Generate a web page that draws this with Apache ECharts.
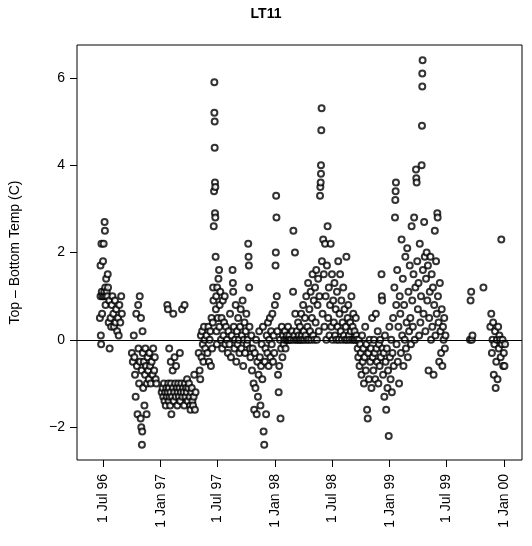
<!DOCTYPE html>
<html>
<head>
<meta charset="utf-8">
<script src="https://cdn.jsdelivr.net/npm/echarts@6/dist/echarts.min.js"></script>
<style>html,body{margin:0;padding:0;background:#fff}#chart{width:532px;height:546px}</style>
</head>
<body>
<div id="chart"></div>
<script>
// days since 1 Jul 1996, temperature difference (C)
var days = [
  -10,-8,-8,-7,-6,-5,-4,-3,-2,0,2,3,4,5,6,7,8,9,10,12,14,15,16,18,20,21,24,26,28,30,33,35,38,40,42,45,48,50,52,55,58,60,
  92,95,98,100,102,104,106,108,110,112,113,115,117,118,120,121,122,123,124,125,126,127,128,130,132,134,135,137,139,140,142,144,146,148,150,152,155,158,160,163,165,168,170,
  187,190,192,194,196,198,200,202,203,205,206,207,208,209,210,211,212,214,215,216,217,218,220,222,223,224,225,227,228,230,232,233,235,237,238,240,242,244,245,246,248,250,252,253,255,257,259,260,261,263,265,267,268,270,272,274,276,278,279,281,283,285,287,289,291,293,295,
  305,308,310,312,314,316,318,320,322,324,326,
  330,333,336,338,340,342,344,346,348,350,351,352,353,354,355,355,356,356,357,357,358,358,359,360,361,362,363,364,366,368,370,371,372,374,376,378,380,382,384,386,388,390,392,
  395,398,400,403,405,408,410,413,414,415,417,419,421,423,425,427,429,431,433,435,437,439,441,443,445,447,449,451,453,455,457,459,461,463,464,465,466,467,469,
  470,473,475,477,480,482,484,486,488,490,492,494,496,498,500,502,504,506,508,510,512,514,516,518,520,522,524,526,528,530,532,534,536,538,540,542,544,546,548,550,551,552,553,554,556,558,560,562,564,566,568,570,572,574,576,578,580,582,584,586,588,590,592,594,596,
  600,603,606,607,608,610,612,613,615,618,620,622,624,626,628,630,632,634,636,638,640,642,644,646,648,650,652,654,656,658,660,662,664,666,668,670,672,674,676,678,680,682,684,686,688,690,692,693,694,695,695,696,697,698,700,702,704,706,708,710,712,714,716,718,720,722,724,726,728,730,732,734,736,738,740,742,744,746,748,750,752,754,756,758,760,762,764,766,768,770,772,774,776,778,780,782,784,786,788,790,792,794,796,798,800,802,804,806,808,810,
  812,814,816,818,820,822,824,826,828,830,832,834,836,838,840,842,844,846,848,850,852,854,856,858,860,862,864,866,868,870,872,874,876,878,880,882,884,886,888,889,890,891,893,895,897,899,901,903,905,907,909,911,913,915,917,919,921,923,925,927,929,931,932,933,934,935,936,
  938,940,942,944,946,948,950,952,954,956,958,960,962,964,966,968,970,972,974,976,978,980,982,984,986,988,990,992,994,996,998,999,1000,1002,1004,1006,1008,1010,1012,1014,1016,1017,1018,1018,1019,1020,1022,1024,1026,1028,1030,1032,1034,1036,1038,1040,1042,1044,1046,1048,1050,1052,1054,1056,1058,1060,1062,1064,1066,1067,1068,1070,1072,1074,1076,1078,1080,1082,1084,1086,1088,1090,1092,
  1170,1172,1174,1176,1178,1213,1235,1238,1240,1242,1244,1246,1248,1250,1252,1254,1256,1258,1260,1262,1264,1266,1268,1270,1272,1274,1276,1278,1280,1282
];
var temps = [
  0.5,1.0,1.7,0.1,-0.1,2.2,1.1,0.6,1.0,1.8,2.2,1.0,1.1,2.7,2.5,1.2,0.8,1.0,1.4,1.1,1.0,1.5,1.2,0.4,0.9,-0.2,0.5,0.3,0.8,1.0,0.6,0.3,0.9,0.4,0.7,0.2,0.5,0.1,0.8,0.4,1.0,0.6,
  -0.3,-0.5,0.1,-0.4,-0.8,-1.3,0.6,-0.6,-1.7,0.8,-0.2,-1.0,1.0,-0.5,-1.8,0.5,-2.0,-0.7,-2.4,-2.1,0.2,-0.3,-1.1,-0.5,-1.5,-0.8,-0.2,-0.6,-1.7,-1.0,-0.4,-0.7,-0.9,-0.3,-0.6,-1.0,-0.5,-0.8,-0.2,-0.7,-0.4,-0.9,-1.0,
  -1.2,-1.1,-1.3,-1.0,-1.4,-1.2,-1.5,-1.1,-1.3,0.8,-1.2,0.7,-1.0,-1.4,-1.1,-0.2,-1.3,-1.5,-1.2,-0.5,-1.0,-1.7,-1.3,-0.7,-1.1,0.6,-1.4,-1.2,-0.4,-1.0,-1.3,-0.6,-1.1,-1.5,-1.2,-1.0,-1.3,-1.1,-0.3,-1.4,-1.2,-1.0,0.7,-1.3,-1.1,-1.2,-1.5,0.8,-1.0,-1.3,-1.1,-1.2,-0.9,-1.4,-1.1,-1.0,-1.3,-1.5,-1.6,-1.2,-1.1,-1.4,-1.5,-1.3,-0.8,-1.6,-1.2,
  -0.3,-0.7,-0.9,0.1,-0.4,0.2,-0.1,-0.5,0.3,0.0,-0.2,
  0.1,-0.3,0.3,-0.5,0.0,0.2,-0.6,0.5,-0.2,0.4,1.2,0.9,2.6,3.4,5.9,5.2,5.0,4.4,3.6,2.9,2.8,3.5,1.9,0.7,1.0,0.2,-0.1,1.2,0.5,1.4,1.6,0.3,0.8,1.1,0.0,0.5,-0.2,0.9,0.1,0.4,1.0,-0.1,0.3,
  0.0,-0.3,0.2,-0.1,0.6,-0.4,0.1,1.6,1.3,1.1,0.3,-0.2,0.0,0.8,-0.5,0.2,-0.1,0.5,0.0,-0.3,0.3,0.7,-0.2,0.1,0.9,-0.6,0.0,0.4,-0.3,0.2,0.6,-0.1,0.0,2.2,1.9,1.7,1.2,0.3,-0.2,
  -0.4,0.1,-0.7,-0.2,-1.0,-1.6,-0.3,-1.1,0.0,-1.7,-0.5,-1.3,-0.8,0.2,-0.4,-1.5,-0.6,-0.1,-0.9,0.3,-2.1,-2.4,-0.5,-0.2,-1.7,0.1,-0.3,0.4,-0.6,0.0,0.5,-0.4,0.2,-0.1,0.6,-0.5,0.1,-0.3,0.8,1.7,2.0,3.3,2.8,1.0,0.2,-0.8,-1.2,-0.6,0.0,-1.8,-0.2,0.3,-0.4,0.1,-0.1,0.0,0.2,-0.2,0.0,0.1,0.0,0.3,0.0,0.1,0.0,
  0.0,0.2,1.1,2.5,0.0,0.1,2.0,0.6,0.0,0.2,0.0,0.4,0.1,0.0,0.3,0.0,0.6,0.1,0.0,0.8,0.2,0.0,0.5,0.1,1.0,0.0,0.3,1.3,0.0,0.7,0.2,1.1,0.0,0.5,1.5,0.1,0.9,0.0,1.2,0.4,1.6,0.0,0.8,1.4,0.2,1.0,3.3,3.5,3.6,3.8,4.0,4.8,5.3,1.8,0.6,2.3,1.5,0.3,2.2,1.0,0.0,1.7,2.6,0.5,1.2,0.1,0.8,2.2,0.3,1.5,0.0,0.9,0.4,1.3,0.1,0.7,0.0,1.1,0.3,1.8,0.0,0.6,1.5,0.2,0.9,0.0,0.4,1.2,0.1,0.7,0.0,0.3,1.9,0.0,0.5,0.8,0.1,0.0,0.4,0.2,1.0,0.0,0.3,0.6,0.0,0.2,0.0,0.5,0.1,0.0,
  -0.2,-0.4,0.0,-0.6,-0.1,-0.3,-0.8,0.1,-0.5,-0.2,-1.0,-0.4,0.3,-0.7,-0.1,-1.6,-1.8,-0.3,-0.9,0.0,-0.5,-0.2,-1.1,0.5,-0.4,-0.7,0.0,-0.3,-0.9,0.6,-0.2,-0.5,0.2,-1.0,-0.1,-0.6,0.0,-0.4,1.5,1.0,0.9,-0.2,-0.8,-0.3,-1.3,0.1,-0.5,-1.6,-0.2,-1.1,-0.7,-2.2,0.3,-0.4,-0.9,0.0,-1.2,-0.3,0.5,-0.6,1.2,2.8,3.2,3.4,3.6,0.8,-0.1,
  1.6,-0.5,0.3,-1.0,1.0,0.6,-0.3,2.3,0.1,1.4,-0.6,0.8,0.0,1.9,-0.2,0.4,2.1,-0.4,1.1,0.2,1.7,0.5,-0.1,2.6,0.9,0.3,1.5,2.8,0.0,1.2,3.9,3.7,3.6,1.8,0.7,1.3,0.1,2.2,0.4,1.0,4.0,4.9,5.8,6.1,6.4,1.6,0.6,2.7,1.9,0.2,1.4,2.0,0.9,1.7,-0.7,0.5,1.1,1.9,0.0,1.5,0.3,1.2,-0.8,0.8,2.5,0.1,1.8,0.6,2.9,2.8,1.0,0.4,-0.5,1.3,0.2,-0.3,0.7,-0.6,0.3,0.0,0.5,-0.2,0.1,
  0.0,0.9,1.1,0.0,0.1,1.2,0.3,0.6,-0.3,0.0,0.4,-0.8,-0.1,0.2,-1.1,-0.5,0.0,-0.9,0.3,-0.2,0.1,0.0,-0.4,2.3,-0.1,0.0,-0.6,-0.3,-0.6,-0.1
];
var xTickDays = [0, 184, 365, 549, 730, 914, 1095, 1279];
var xTickLabels = ['1 Jul 96', '1 Jan 97', '1 Jul 97', '1 Jan 98', '1 Jul 98', '1 Jan 99', '1 Jul 99', '1 Jan 00'];
var yTicks = [-2, 0, 2, 4, 6];

var points = days.map(function (d, i) { return [d, temps[i]]; });
var font = 'Liberation Sans, Arial, sans-serif';

var chart = echarts.init(document.getElementById('chart'));
chart.setOption({
  animation: false,
  title: {
    text: 'LT11', left: 'center', top: 2,
    textStyle: { fontFamily: font, fontSize: 14, fontWeight: 'bold', color: '#000' }
  },
  grid: { left: 75, right: 10, top: 45, bottom: 86, show: true, borderColor: '#000', borderWidth: 1 },
  xAxis: {
    type: 'value', min: -83, max: 1336,
    axisLine: { show: false, onZero: false }, splitLine: { show: false },
    axisTick: { show: true, length: 7, lineStyle: { color: '#000' }, customValues: xTickDays },
    axisLabel: {
      customValues: xTickDays, rotate: 90, margin: 14, color: '#000', fontFamily: font, fontSize: 14,
      formatter: function (v) { var i = xTickDays.indexOf(v); return i >= 0 ? xTickLabels[i] : ''; }
    }
  },
  yAxis: {
    type: 'value', min: -2.75, max: 6.75,
    name: 'Top \u2013 Bottom Temp (C)', nameLocation: 'middle', nameGap: 55,
    nameTextStyle: { fontFamily: font, fontSize: 14, color: '#000' },
    axisLine: { show: false, onZero: false }, splitLine: { show: false },
    axisTick: { show: true, length: 7, lineStyle: { color: '#000' }, customValues: yTicks },
    axisLabel: { customValues: yTicks, margin: 12, color: '#000', fontFamily: font, fontSize: 14,
      formatter: function (v) { return v < 0 ? '\u2212' + Math.abs(v) : String(v); } }
  },
  series: [{
    type: 'scatter',
    data: points,
    symbol: 'emptyCircle',
    symbolSize: 6,
    itemStyle: { color: '#000', borderColor: '#000', borderWidth: 1.3 },
    markLine: {
      silent: true, symbol: 'none', label: { show: false },
      lineStyle: { color: '#000', width: 1, type: 'solid' },
      data: [{ yAxis: 0 }]
    }
  }]
});
</script>
</body>
</html>
